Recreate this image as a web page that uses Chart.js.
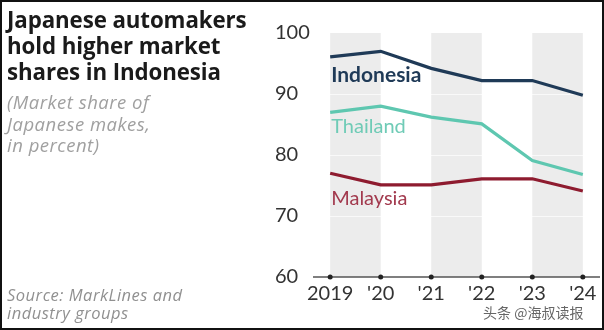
<!DOCTYPE html>
<html>
<head>
<meta charset="utf-8">
<script src="https://cdn.jsdelivr.net/npm/chart.js@4/dist/chart.umd.min.js"></script>
<style>
  html, body { margin: 0; padding: 0; background: #fff; }
  #wrap { position: relative; width: 604px; height: 330px; box-sizing: border-box; border: 2px solid #111; overflow: hidden; }
  canvas { position: absolute; left: -2px; top: -2px; }
  .t { position: absolute; left: 5px; font-family: "Open Sans", Lato, sans-serif; white-space: nowrap; }
  #title { top: 5px; font-size: 22.3px; font-weight: 700; line-height: 26px; color: #1a1a1a; letter-spacing: -0.1px; }
  #sub { top: 89px; font-size: 18.5px; font-style: italic; line-height: 21.5px; color: #a0a0a0; letter-spacing: 0.5px; }
  #src { top: 284px; font-size: 16.5px; font-style: italic; line-height: 18px; color: #909090; letter-spacing: 0.5px; }
  #wm { position: absolute; left: 481px; top: 300px; font-family: "Noto Sans CJK SC", sans-serif; font-size: 14px; color: #666; }
</style>
</head>
<body>
<div id="wrap">
  <canvas id="myChart" width="604" height="330"></canvas>
  <div class="t" id="title">Japanese automakers<br>hold higher market<br>shares in Indonesia</div>
  <div class="t" id="sub">(Market share of<br>Japanese makes,<br>in percent)</div>
  <div class="t" id="src">Source: MarkLines and<br>industry groups</div>
  <div id="wm">头条 @海叔读报</div>
</div>
<script>
const years = [2019, 2020, 2021, 2022, 2023, 2024];
const yearLabels = ["2019", "'20", "'21", "'22", "'23", "'24"];
const indonesia = [96.1, 97.0, 94.2, 92.2, 92.2, 89.8];
const thailand = [87.0, 88.0, 86.2, 85.1, 79.1, 76.8];
const malaysia = [77.0, 75.1, 75.1, 76.1, 76.1, 74.1];
const yTicks = [60, 70, 80, 90, 100];

// name, line colour, text colour, font, label anchor value
const seriesLabels = [
  ["Indonesia", "#1f3a57", "#1f3a57", "bold 21px Lato, sans-serif", 93.1],
  ["Thailand", "#5ec7b0", "#6fcbb6", "20px Lato, sans-serif", 84.6],
  ["Malaysia", "#8e1b2f", "#a23a4e", "20px Lato, sans-serif", 72.8],
];

const ctx = document.getElementById("myChart");

const decor = {
  id: "decor",
  beforeDatasetsDraw(chart) {
    const c = chart.ctx;
    const x = chart.scales.x;
    const y = chart.scales.y;
    const top = y.getPixelForValue(100);
    const bottom = y.getPixelForValue(60);
    c.save();
    c.fillStyle = "#ececec";
    for (let i = 0; i + 1 < years.length; i += 2) {
      const x0 = x.getPixelForValue(years[i]);
      const x1 = x.getPixelForValue(years[i + 1]);
      c.fillRect(x0, top, x1 - x0, bottom - top);
    }
    // faint gridlines
    c.strokeStyle = "rgba(255,255,255,0.7)";
    c.lineWidth = 1;
    yTicks.slice(1, -1).forEach((v) => {
      const py = Math.round(y.getPixelForValue(v)) + 0.5;
      c.beginPath();
      c.moveTo(chart.chartArea.left, py);
      c.lineTo(chart.chartArea.right, py);
      c.stroke();
    });
    c.restore();
  },
  afterDatasetsDraw(chart) {
    const c = chart.ctx;
    const x = chart.scales.x;
    const y = chart.scales.y;
    c.save();
    // axis line + dots
    const ay = y.getPixelForValue(60);
    c.strokeStyle = "#555";
    c.lineWidth = 1.5;
    c.beginPath();
    c.moveTo(chart.chartArea.left, ay);
    c.lineTo(chart.chartArea.right, ay);
    c.stroke();
    c.fillStyle = "#222";
    years.forEach((yr) => {
      c.beginPath();
      c.arc(x.getPixelForValue(yr), ay, 2.5, 0, Math.PI * 2);
      c.fill();
    });
    // series labels
    c.textBaseline = "middle";
    c.textAlign = "left";
    seriesLabels.forEach(([name, , tc, font, v]) => {
      c.font = font;
      c.fillStyle = tc;
      c.fillText(name, x.getPixelForValue(years[0]) + 1, y.getPixelForValue(v));
    });
    c.restore();
  },
};

new Chart(ctx, {
  type: "line",
  data: {
    datasets: [indonesia, thailand, malaysia].map((vals, i) => ({
      label: seriesLabels[i][0],
      data: vals.map((v, j) => ({ x: years[j], y: v })),
      borderColor: seriesLabels[i][1],
      borderWidth: 3.2,
      pointRadius: 0,
      tension: 0,
      clip: false,
    })),
  },
  options: {
    responsive: false,
    animation: false,
    events: [],
    layout: { padding: { left: 275, right: 4, top: 33, bottom: 22 } },
    plugins: { legend: { display: false }, tooltip: { enabled: false } },
    scales: {
      x: {
        type: "linear",
        min: 2018.66,
        max: 2024.34,
        afterBuildTicks: (s) => { s.ticks = years.map((v) => ({ value: v })); },
        afterFit: (s) => { s.height = 31; },
        grid: { display: false, drawTicks: false },
        border: { display: false },
        ticks: {
          padding: 5,
          color: "#333",
          font: { family: "Lato, 'Noto Sans', sans-serif", size: 20 },
          callback: (v) => yearLabels[years.indexOf(v)],
          maxRotation: 0,
          autoSkip: false,
        },
      },
      y: {
        min: 60,
        max: 100,
        afterBuildTicks: (s) => { s.ticks = yTicks.map((v) => ({ value: v })); },
        afterFit: (s) => { s.width = 38; },
        grid: { display: false, drawTicks: false },
        border: { display: false },
        ticks: {
          crossAlign: "far",
          padding: 0,
          color: "#333",
          font: { family: "Lato, 'Noto Sans', sans-serif", size: 20 },
        },
      },
    },
  },
  plugins: [decor],
});
</script>
</body>
</html>
